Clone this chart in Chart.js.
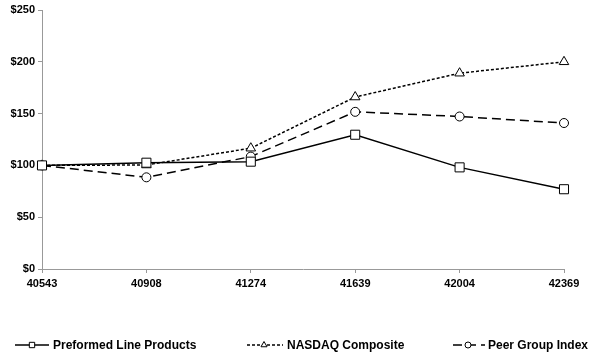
<!DOCTYPE html>
<html><head><meta charset="utf-8">
<script src="https://cdn.jsdelivr.net/npm/chart.js@4/dist/chart.umd.min.js"></script>
<style>html,body{margin:0;padding:0;background:#fff}#wrap{width:600px;height:356px;position:relative}</style>
</head><body><div id="wrap"><canvas id="c" width="600" height="356"></canvas></div>
<script>
const categories = ["40543","40908","41274","41639","42004","42369"];
const plp = [100, 102.6, 103.6, 129.6, 98.1, 77];
const nasdaq = [100, 100.4, 116.6, 166, 189, 200];
const peer = [100, 88.5, 108.5, 151.7, 147.2, 140.9];
const seriesNames = ["Preformed Line Products", "NASDAQ Composite", "Peer Group Index"];
const yTicks = [0, 50, 100, 150, 200, 250];

const FONT = "'Liberation Sans', Arial, sans-serif";
const styles = [
  {dash: [], pointStyle: 'rect', radius: 6.4, legendRadius: 3.8},
  {dash: [3, 2], pointStyle: 'triangle', radius: 5.5, legendRadius: 3.5},
  {dash: [9, 5], pointStyle: 'circle', radius: 4.5, legendRadius: 3}
];
const data = [plp, nasdaq, peer];

const legendPlugin = {
  id: 'lineLegend',
  afterDraw(chart) {
    const ctx = chart.ctx;
    const items = [
      {x0: 15, x1: 49, mx: 32, tx: 53},
      {x0: 247, x1: 283, mx: 264, tx: 287},
      {x0: 453, x1: 485, mx: 468, tx: 488}
    ];
    const y = 345;
    ctx.save();
    items.forEach((it, i) => {
      const s = styles[i];
      ctx.strokeStyle = '#000';
      ctx.lineWidth = 1.5;
      ctx.setLineDash(s.dash);
      ctx.beginPath(); ctx.moveTo(it.x0, y); ctx.lineTo(it.x1, y); ctx.stroke();
      ctx.setLineDash([]);
      ctx.fillStyle = '#fff';
      ctx.lineWidth = 1;
      Chart.helpers.drawPoint(ctx, {pointStyle: s.pointStyle, radius: s.legendRadius, borderWidth: 1}, it.mx, y);
      ctx.fillStyle = '#000';
      ctx.font = "bold 12px " + FONT;
      ctx.textBaseline = 'middle';
      ctx.textAlign = 'left';
      ctx.fillText(seriesNames[i], it.tx, y + 1);
    });
    ctx.restore();
  }
};

new Chart(document.getElementById('c'), {
  type: 'line',
  data: {
    labels: categories,
    datasets: data.map((d, i) => ({
      label: seriesNames[i],
      data: d,
      borderColor: '#000',
      borderWidth: 1.5,
      borderDash: styles[i].dash,
      pointStyle: styles[i].pointStyle,
      pointRadius: styles[i].radius,
      pointBorderWidth: 1,
      pointBackgroundColor: '#fff',
      pointBorderColor: '#000',
      tension: 0,
      fill: false
    }))
  },
  options: {
    responsive: false,
    animation: false,
    devicePixelRatio: 1,
    layout: {padding: {left: 0, right: 36, top: 10, bottom: 67}},
    plugins: {legend: {display: false}, tooltip: {enabled: false}},
    scales: {
      x: {
        type: 'category',
        offset: false,
        grid: {display: true, drawOnChartArea: false, drawTicks: true, tickLength: 4, color: '#999'},
        border: {color: '#999', width: 1},
        ticks: {color: '#000', font: {family: FONT, size: 11, weight: 'bold'}, maxRotation: 0, autoSkip: false, padding: 4},
        afterFit(s) { s.height = 20; }
      },
      y: {
        min: 0, max: 250,
        afterBuildTicks(s) { s.ticks = yTicks.map(v => ({value: v})); },
        grid: {display: true, drawOnChartArea: false, drawTicks: true, tickLength: 4, color: '#999'},
        border: {color: '#999', width: 1},
        ticks: {color: '#000', font: {family: FONT, size: 11, weight: 'bold'}, padding: 3, callback: v => '$' + v},
        afterFit(s) { s.width = 42; }
      }
    }
  },
  plugins: [legendPlugin]
});
</script>
</body></html>
